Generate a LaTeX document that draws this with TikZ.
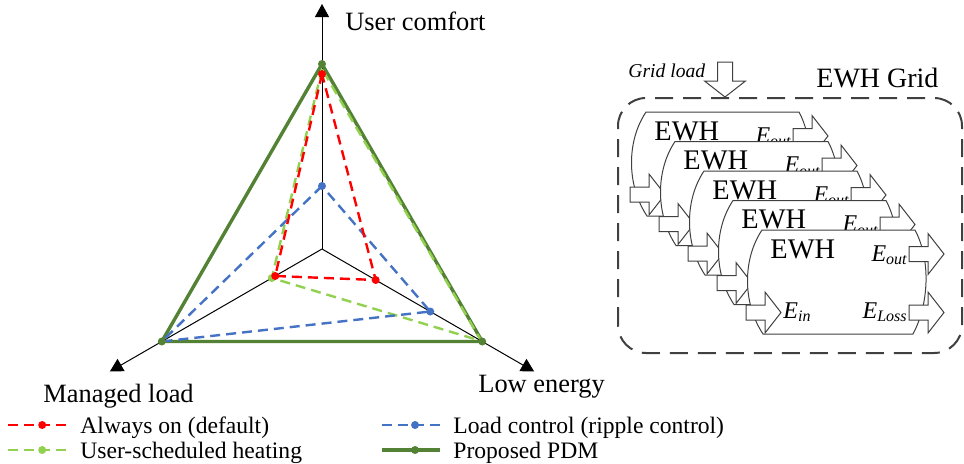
\documentclass[tikz,border=0pt]{standalone}
\usepackage{fontspec}
\setmainfont{Liberation Serif}
\usetikzlibrary{arrows.meta}
\definecolor{aonred}{RGB}{255,0,0}
\definecolor{lcblue}{RGB}{68,114,196}
\definecolor{uslime}{RGB}{146,208,80}
\definecolor{pdmgreen}{RGB}{84,130,53}
\definecolor{framegray}{RGB}{64,64,64}

\begin{document}
\begin{tikzpicture}[x=0.5pt, y=0.5pt,
  axis/.style={line width=0.5pt, -{Triangle[length=6.5pt, width=7pt]}},
  axlabel/.style={anchor=base west, inner sep=0pt, font=\fontsize{13.2}{16}\selectfont},
  legtext/.style={anchor=base west, inner sep=0pt, font=\fontsize{11.8}{14}\selectfont},
  series/.style={line width=1.2pt, dash pattern=on 5pt off 3pt, draw=#1},
  pdm/.style={line width=1.7pt, draw=pdmgreen, line join=round},
  mk/.style={circle, fill=#1, inner sep=0pt, minimum size=4pt},
  tank/.style={draw=black!75, line width=0.5pt, fill=white},
  elabel/.style={inner sep=0pt, font=\fontsize{12}{14}\selectfont\itshape},
  frame/.style={draw=framegray, line width=1pt, dash pattern=on 9pt off 5pt, rounded corners=14pt},
  flow/.pic={\draw[tank] (0,-7.5) -- (19,-7.5) -- (19,-20.5) -- (35,0) -- (19,20.5) -- (19,7.5) -- (0,7.5) -- cycle;},
  ewh/.pic={
    \draw[tank] (0,0) -- (153,0) .. controls (169,-30) and (167,-74) .. (151,-104) -- (1,-104) .. controls (-19,-74) and (-20,-30) .. (0,0) -- cycle;
    \node[anchor=base west, inner sep=0pt, font=\fontsize{14.2}{17}\selectfont] (-name) at (8,-28) {EWH};
    \pic at (-16,-82.5) {flow};
    \pic at (147,-24) {flow};
    \pic at (147,-82.5) {flow};
    \node[elabel, anchor=base east] (-out) at (146,-31) {E\textsubscript{out}};
    \node[elabel, anchor=base west] (-in) at (21,-88) {E\textsubscript{in}};
    \node[elabel, anchor=base east] (-loss) at (146,-88) {E\textsubscript{Loss}};
  }]
  \useasboundingbox (0,0) rectangle (964,463);

  % radar chart
  \begin{scope}[shift={(322,214)}]
    \coordinate (o) at (0,0);
    \coordinate (uc) at (90:245);
    \coordinate (ml) at (210:245);
    \coordinate (le) at (330:245);
    \draw[axis] (o) -- (uc);
    \draw[axis] (o) -- (ml);
    \draw[axis] (o) -- (le);
    \coordinate (pdm1) at (90:185);
    \coordinate (pdm2) at (210:185);
    \coordinate (pdm3) at (330:185);
    \coordinate (us1) at (90:180);
    \coordinate (us2) at (210:58);
    \coordinate (us3) at (330:184);
    \coordinate (lc1) at (90:63);
    \coordinate (lc2) at (210:185);
    \coordinate (lc3) at (330:125);
    \coordinate (ao1) at (90:175);
    \coordinate (ao2) at (210:54);
    \coordinate (ao3) at (330:62);
  \end{scope}
  \draw[pdm] (pdm1) -- (pdm2) -- (pdm3) -- cycle;
  \draw[series=uslime] (us1) -- (us2) -- (us3) -- cycle;
  \draw[series=lcblue] (lc1) -- (lc2) -- (lc3) -- cycle;
  \draw[series=aonred] (ao1) -- (ao2) -- (ao3) -- cycle;
  \fill[pdmgreen] (pdm1) circle (2pt) (pdm2) circle (2pt) (pdm3) circle (2pt);
  \fill[uslime] (us2) circle (2pt);
  \fill[lcblue] (lc1) circle (2pt) (lc3) circle (2pt);
  \fill[aonred] (ao1) circle (2pt) (ao2) circle (2pt) (ao3) circle (2pt);
  \draw (345,433) node[axlabel] (uclabel) {User comfort};
  \draw (43,61) node[axlabel] (mllabel) {Managed load};
  \draw (478,71) node[axlabel] (lelabel) {Low energy};

  % legend
  \draw[series=aonred] (8,38) -- node[mk=aonred, pos=0.57] (k1) {} (68,38);
  \draw[series=lcblue] (382,38) -- node[mk=lcblue, pos=0.57] (k2) {} (440,38);
  \draw[series=uslime] (8,13) -- node[mk=uslime, pos=0.57] (k3) {} (68,13);
  \draw[pdm] (382,13) -- node[mk=pdmgreen, pos=0.57] (k4) {} (440,13);
  \draw (80,30) node[legtext] (t1) {Always on (default)};
  \draw (453,30) node[legtext] (t2) {Load control (ripple control)};
  \draw (80,5) node[legtext] (t3) {User-scheduled heating};
  \draw (453,5) node[legtext] (t4) {Proposed PDM};

  % EWH grid
  \draw[frame] (618,110) rectangle (962,365);
  \draw (816,376) node[anchor=base west, inner sep=0pt, font=\fontsize{14}{17}\selectfont] (grid) {EWH Grid};
  \draw (628,386) node[anchor=base west, inner sep=0pt, font=\fontsize{9.8}{12}\selectfont\itshape] (gl) {Grid load};
  \pic[rotate=-90] at (725,401) {flow};
  \pic (w0) at (646,351) {ewh};
  \pic (w1) at (675,321.5) {ewh};
  \pic (w2) at (704,292) {ewh};
  \pic (w3) at (733,262.5) {ewh};
  \pic (w4) at (762,233) {ewh};
\end{tikzpicture}
\end{document}
